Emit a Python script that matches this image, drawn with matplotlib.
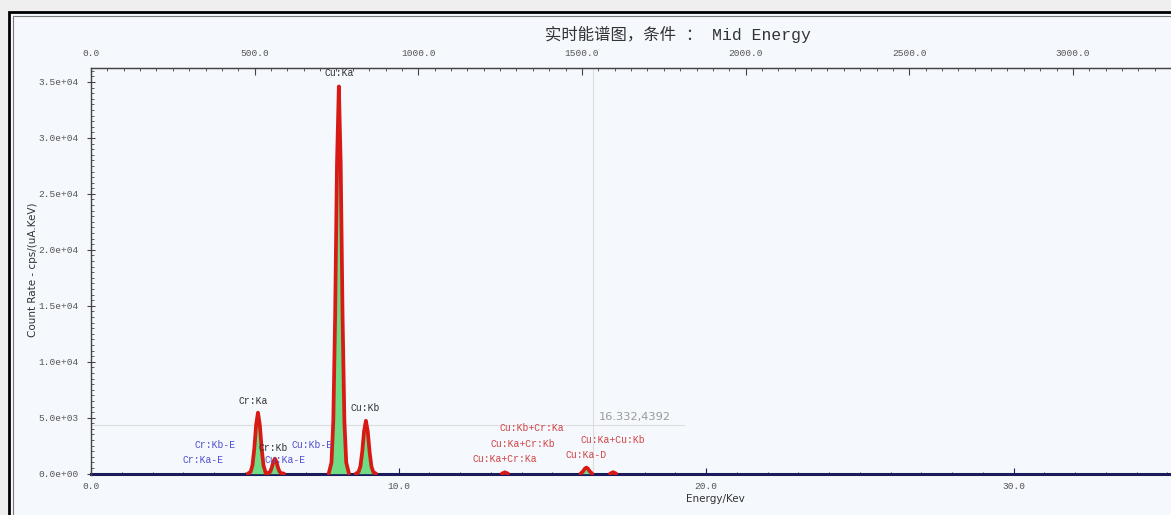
import matplotlib
matplotlib.use("Agg")
import matplotlib.pyplot as plt
from matplotlib.patches import Rectangle
from matplotlib.ticker import MultipleLocator, FuncFormatter

# spectrum peaks (energy keV, count rate cps)
cr_ka_e = [5.10, 5.19, 5.25, 5.31, 5.37, 5.43, 5.49, 5.55, 5.61, 5.67, 5.76]
cr_ka_c = [0, 160, 740, 2230, 4360, 5450, 4360, 2230, 740, 160, 0]
cr_kb_e = [5.68, 5.77, 5.83, 5.88, 5.93, 5.98, 6.03, 6.08, 6.13, 6.19, 6.28]
cr_kb_c = [0, 40, 180, 550, 1070, 1340, 1070, 550, 180, 40, 0]
cu_ka_e = [7.73, 7.82, 7.88, 7.94, 8.00, 8.06, 8.12, 8.18, 8.24, 8.30, 8.39]
cu_ka_c = [0, 1000, 4700, 14200, 27700, 34600, 27700, 14200, 4700, 1000, 0]
cu_kb_e = [8.61, 8.70, 8.76, 8.82, 8.88, 8.94, 9.00, 9.06, 9.12, 9.18, 9.27]
cu_kb_c = [0, 140, 640, 1940, 3780, 4730, 3780, 1940, 640, 140, 0]
sum_e = [15.92, 16.00, 16.06, 16.11, 16.16, 16.22, 16.30]
sum_c = [0, 200, 450, 540, 450, 200, 0]
small_e = [[13.36, 13.46, 13.56], [16.88, 16.98, 17.08]]
small_c = [[0, 120, 0], [0, 130, 0]]

peaks_e = [cr_ka_e, cr_kb_e, cu_ka_e, cu_kb_e, sum_e] + small_e
peaks_c = [cr_ka_c, cr_kb_c, cu_ka_c, cu_kb_c, sum_c] + small_c

cursor_e = 16.332
cursor_c = 4392
cursor_text = "16.332,4392"

labels = ["Cu:Ka", "Cr:Ka", "Cu:Kb", "Cr:Kb",
          "Cr:Kb-E", "Cr:Ka-E", "Cu:Ka-E", "Cu:Kb-E",
          "Cu:Kb+Cr:Ka", "Cu:Ka+Cr:Kb", "Cu:Ka+Cr:Ka", "Cu:Ka+Cu:Kb", "Cu:Ka-D"]
label_e = [8.07, 5.27, 8.91, 5.92, 4.03, 3.64, 6.31, 7.19,
           14.34, 14.05, 13.46, 16.98, 16.10]
label_c = [35800, 6520, 5890, 2320, 2590, 1250, 1250, 2590,
           4110, 2680, 1340, 3040, 1700]
label_kind = ["main"] * 4 + ["escape"] * 4 + ["sum"] * 5

CH_PER_KEV = 93.95
MONO = ["Liberation Mono", "Noto Sans CJK SC"]

fig = plt.figure(figsize=(11.71, 5.15), dpi=100)
fig.patch.set_facecolor("#efefef")
W, H = 1171, 515
fig.patches.append(Rectangle((9 / W, -0.1), 1.2, 1 - 12 / H + 0.1,
                             transform=fig.transFigure, facecolor="#f5f8fc",
                             edgecolor="black", linewidth=2, zorder=-10))
fig.patches.append(Rectangle((13 / W, -0.1), 1.2, 1 - 16 / H + 0.1,
                             transform=fig.transFigure, facecolor="none",
                             edgecolor="#777777", linewidth=0.8, zorder=-9))

ax = fig.add_axes([91 / W, 1 - 475 / H, 1 - 91 / W, (475 - 68) / H])
ax.set_facecolor("none")
ax.set_xlim(0, (W - 91) / 30.75)
ax.set_ylim(-120, 36250)

# baseline of spectrum
ax.axhline(0, color="#1c1c5c", linewidth=2.2, zorder=2, clip_on=False)
for e, c in zip(peaks_e, peaks_c):
    ax.fill_between(e, c, 0, color="#6fdc85", linewidth=0, zorder=3)
    ax.plot(e, c, color="#d81a14", linewidth=2.7, zorder=4,
            solid_joinstyle="round", solid_capstyle="round")

# cursor crosshair
ax.axvline(cursor_e, color="#dddddd", linewidth=0.8, zorder=1)
ax.plot([0, 19.3], [cursor_c, cursor_c], color="#dddddd", linewidth=0.8, zorder=1)
ax.text(cursor_e + 0.18, cursor_c + 250, cursor_text, color="#999999",
        fontsize=8.2, family="DejaVu Sans", va="bottom")

colors = {"main": "#333333", "escape": "#5050d0", "sum": "#d04545"}
for t, e, c, k in zip(labels, label_e, label_c, label_kind):
    ax.text(e, c, t, color=colors[k], fontsize=7, family=MONO,
            ha="center", va="center", zorder=5)

# spines and ticks
for s in ["top", "left"]:
    ax.spines[s].set_color("#444444")
    ax.spines[s].set_linewidth(1.0)
ax.spines["bottom"].set_visible(False)
ax.spines["right"].set_visible(False)

ax.xaxis.set_major_locator(MultipleLocator(10))
ax.xaxis.set_minor_locator(MultipleLocator(1))
ax.yaxis.set_major_locator(MultipleLocator(5000))
ax.yaxis.set_minor_locator(MultipleLocator(500))
ax.xaxis.set_major_formatter(FuncFormatter(lambda v, p: f"{v:.1f}"))
ax.yaxis.set_major_formatter(FuncFormatter(lambda v, p: f"{v:.1e}"))
ax.tick_params(axis="x", which="major", direction="in", length=5, color="#1c1c5c",
               labelsize=6.8, labelcolor="#555555", pad=5)
ax.tick_params(axis="x", which="minor", direction="in", length=2.5, color="#1c1c5c")
ax.tick_params(axis="y", which="major", direction="inout", length=6, color="#444444",
               labelsize=6.8, labelcolor="#555555", pad=6)
ax.tick_params(axis="y", which="minor", direction="in", length=2.5, color="#444444")
for lab in ax.get_xticklabels() + ax.get_yticklabels():
    lab.set_family(MONO)

top = ax.secondary_xaxis("top", functions=(lambda x: x * CH_PER_KEV,
                                           lambda ch: ch / CH_PER_KEV))
top.set_xticks([0, 500, 1000, 1500, 2000, 2500, 3000])
top.xaxis.set_minor_locator(MultipleLocator(50))
top.xaxis.set_major_formatter(FuncFormatter(lambda v, p: f"{v:.1f}"))
top.tick_params(which="major", direction="in", length=5, color="#444444",
                labelsize=6.8, labelcolor="#555555", pad=7)
top.tick_params(which="minor", direction="in", length=2.5, color="#444444")
top.spines["top"].set_color("#444444")
for lab in top.get_xticklabels():
    lab.set_family(MONO)

fig.text(678 / W, 1 - 34 / H, "实时能谱图，条件 ： Mid Energy", family=MONO,
         fontsize=11.8, color="#333333", ha="center", va="center")
fig.text(715 / W, 1 - 499 / H, "Energy/Kev", family="DejaVu Sans", fontsize=7.5,
         color="#333333", ha="center", va="center")
fig.text(33 / W, 1 - 270 / H, "Count Rate - cps/(uA.KeV)", family="DejaVu Sans",
         fontsize=7.5, color="#333333", ha="center", va="center", rotation=90)

fig.savefig("out.png", dpi=100, facecolor=fig.get_facecolor())
